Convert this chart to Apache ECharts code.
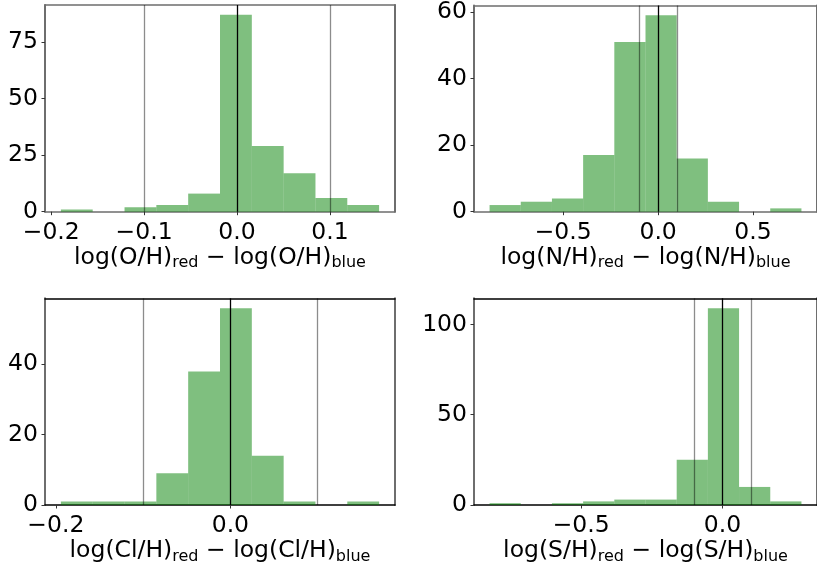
<!DOCTYPE html>
<html>
<head>
<meta charset="utf-8">
<script src="https://cdn.jsdelivr.net/npm/echarts@6/dist/echarts.min.js"></script>
<style>
  html, body { margin: 0; padding: 0; background: #fff; }
  #chart { width: 817px; height: 566px; }
</style>
</head>
<body>
<div id="chart"></div>
<script>
// histogram bin edges and counts
var ohEdges = [-0.1896, -0.15535, -0.1211, -0.08685, -0.0526, -0.01835, 0.0159, 0.05015, 0.0844, 0.11865, 0.1529];
var ohCounts = [1, 0, 2, 3, 8, 87, 29, 17, 6, 3];
var nhEdges = [-0.888, -0.7237, -0.5594, -0.3951, -0.2308, -0.0665, 0.0978, 0.2621, 0.4264, 0.5907, 0.755];
var nhCounts = [2, 3, 4, 17, 51, 59, 16, 3, 0, 1];
var clhEdges = [-0.1943, -0.15782, -0.12134, -0.08486, -0.04838, -0.0119, 0.02458, 0.06106, 0.09754, 0.13402, 0.1705];
var clhCounts = [1, 1, 1, 9, 38, 56, 14, 1, 0, 1];
var shEdges = [-0.824, -0.7137, -0.6034, -0.4931, -0.3828, -0.2725, -0.1622, -0.0519, 0.0584, 0.1687, 0.279];
var shCounts = [1, 0, 1, 2, 3, 3, 25, 109, 10, 2];

// tick values
var ohXTicks = [-0.2, -0.1, 0, 0.1];
var ohYTicks = [0, 25, 50, 75];
var nhXTicks = [-0.5, 0, 0.5];
var nhYTicks = [0, 20, 40, 60];
var clhXTicks = [-0.2, 0];
var clhYTicks = [0, 20, 40];
var shXTicks = [-0.5, 0];
var shYTicks = [0, 50, 100];

// reference lines
var greyLines = [-0.1, 0.1];
var blackLines = [0];

var FONT = 'DejaVu Sans';
var GREY = '#6e6e6e';

function fmt(v) {
  return (v < 0 ? '\u2212' : '') + Math.abs(v).toFixed(1);
}

function histData(edges, counts) {
  var out = [];
  for (var i = 0; i < counts.length; i++) {
    out.push([edges[i], edges[i + 1], counts[i]]);
  }
  return out;
}

var grids = [], xAxes = [], yAxes = [], series = [];

function panel(box, edges, counts, xr, ymax, xticks, yticks, el, bottomRow) {
  var g = grids.length;
  grids.push({ left: box[0], top: box[1], width: 350, height: 206.7 });
  var hColor = bottomRow ? '#000' : GREY;
  xAxes.push({
    gridIndex: g, type: 'value', position: 'bottom', min: xr[0], max: xr[1],
    splitLine: { show: false },
    axisLine: { onZero: false, lineStyle: { color: hColor, width: 1.5 } },
    axisTick: { customValues: xticks, length: 3.5, lineStyle: { color: '#333' } },
    axisLabel: {
      customValues: xticks, formatter: fmt, margin: 9,
      fontFamily: FONT, fontSize: 23.5, color: '#000'
    },
    name: '{a|log(' + el + '/H)}{s|red}{a| \u2212 log(' + el + '/H)}{s|blue}',
    nameLocation: 'middle', nameGap: 31,
    nameTextStyle: {
      fontFamily: FONT, color: '#000',
      rich: {
        a: { fontFamily: FONT, fontSize: 23.5, lineHeight: 27, verticalAlign: 'middle', color: '#000' },
        s: { fontFamily: FONT, fontSize: 16, lineHeight: 16, verticalAlign: 'bottom', color: '#000' }
      }
    }
  });
  xAxes.push({
    gridIndex: g, type: 'value', position: 'top', min: xr[0], max: xr[1],
    splitLine: { show: false }, axisTick: { show: false }, axisLabel: { show: false },
    axisLine: { onZero: false, lineStyle: { color: hColor, width: 1.5 } }
  });
  yAxes.push({
    gridIndex: g, type: 'value', position: 'left', min: 0, max: ymax,
    splitLine: { show: false },
    axisLine: { show: true, onZero: false, lineStyle: { color: GREY, width: 2 } },
    axisTick: { show: true, customValues: yticks, length: 3.5, lineStyle: { color: '#333' } },
    axisLabel: {
      customValues: yticks, margin: 7,
      fontFamily: FONT, fontSize: 23.5, color: '#000'
    }
  });
  yAxes.push({
    gridIndex: g, type: 'value', position: 'right', min: 0, max: ymax,
    splitLine: { show: false }, axisTick: { show: false }, axisLabel: { show: false },
    axisLine: { show: true, onZero: false, lineStyle: { color: GREY, width: 2 } }
  });
  var lines = [];
  greyLines.forEach(function (v) {
    lines.push({ xAxis: v, lineStyle: { color: 'rgba(0,0,0,0.45)', width: 1.3, type: 'solid' } });
  });
  blackLines.forEach(function (v) {
    lines.push({ xAxis: v, lineStyle: { color: '#000', width: 1.3, type: 'solid' } });
  });
  series.push({
    type: 'custom',
    xAxisIndex: 2 * g, yAxisIndex: 2 * g,
    data: histData(edges, counts),
    encode: { x: [0, 1], y: 2 },
    renderItem: function (params, api) {
      var p0 = api.coord([api.value(0), api.value(2)]);
      var p1 = api.coord([api.value(1), 0]);
      return {
        type: 'rect',
        shape: { x: p0[0], y: p0[1], width: p1[0] - p0[0], height: p1[1] - p0[1] },
        style: { fill: 'rgba(0,128,0,0.5)' }
      };
    },
    markLine: {
      silent: true, symbol: ['none', 'none'], label: { show: false },
      animation: false, data: lines
    }
  });
}

panel([45, 5], ohEdges, ohCounts, [-0.2067, 0.1700], 91.35, ohXTicks, ohYTicks, 'O', false);
panel([474, 5], nhEdges, nhCounts, [-0.970, 0.837], 61.95, nhXTicks, nhYTicks, 'N', false);
panel([45, 298.3], clhEdges, clhCounts, [-0.2125, 0.1887], 58.8, clhXTicks, clhYTicks, 'Cl', true);
panel([474, 298.3], shEdges, shCounts, [-0.879, 0.334], 114.45, shXTicks, shYTicks, 'S', true);

var chart = echarts.init(document.getElementById('chart'), null, { renderer: 'canvas' });
chart.setOption({
  animation: false,
  backgroundColor: '#fff',
  grid: grids,
  xAxis: xAxes,
  yAxis: yAxes,
  series: series
});
</script>
</body>
</html>
